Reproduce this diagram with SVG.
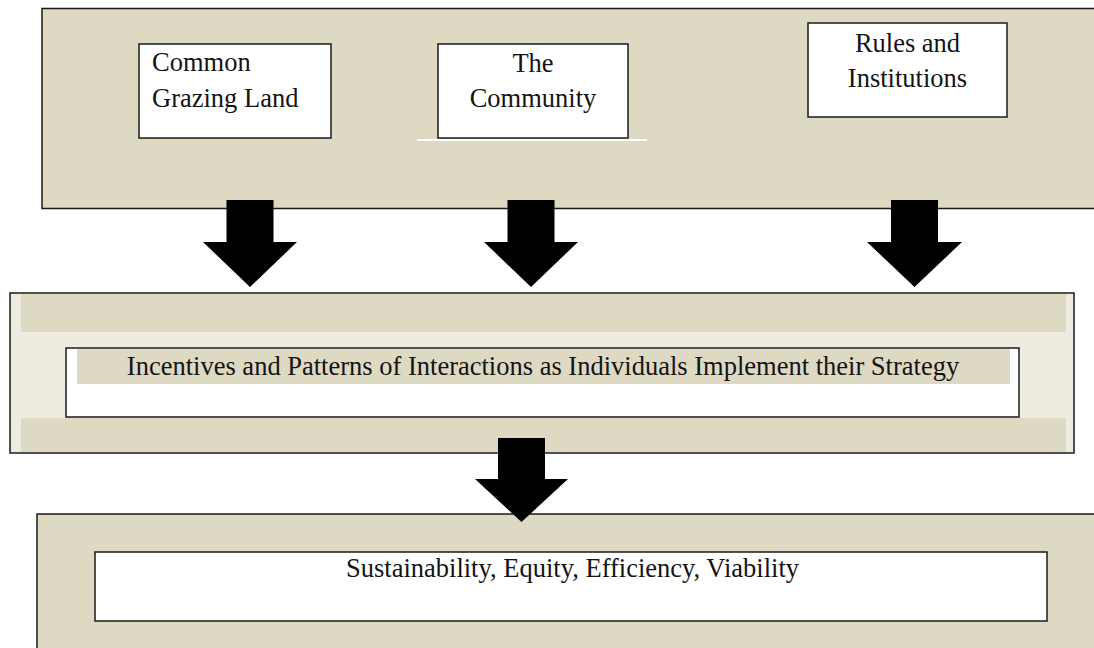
<svg xmlns="http://www.w3.org/2000/svg" width="1094" height="648" viewBox="0 0 1094 648">
<style>
.panel{fill:#ddd9c3;stroke:#1a1a1a;stroke-width:1.5}
.light{fill:#eeece1;stroke:#1a1a1a;stroke-width:1.5}
.band{fill:#ddd9c3;stroke:none}
.box{fill:#ffffff;stroke:#1a1a1a;stroke-width:1.5}
.t{font-family:"Liberation Serif","Times New Roman",serif;font-size:26.5px;fill:#141414}
.c{text-anchor:middle}
.arrow{fill:#000000;stroke:none}
</style>
<rect width="1094" height="648" fill="#ffffff"/>
<g id="top-panel">
<rect class="panel" x="42" y="8.5" width="1070" height="200"/>
<line x1="417" y1="140" x2="647" y2="140" stroke="#ffffff" stroke-width="2"/>
</g>
<g id="node-common-grazing-land">
<rect class="box" x="139" y="44" width="192" height="94"/>
<text class="t" x="152" y="71">Common</text>
<text class="t" x="152" y="107">Grazing Land</text>
</g>
<g id="node-community">
<rect class="box" x="438" y="44" width="190" height="94"/>
<text class="t c" x="533" y="72">The</text>
<text class="t c" x="533" y="107">Community</text>
</g>
<g id="node-rules">
<rect class="box" x="808" y="23" width="199" height="94"/>
<text class="t c" x="907.5" y="52">Rules and</text>
<text class="t c" x="907.5" y="87">Institutions</text>
</g>
<g id="mid-panel">
<rect class="light" x="10" y="293" width="1064" height="160"/>
<rect class="band" x="21" y="294" width="1045" height="38"/>
<rect class="band" x="21" y="418" width="1045" height="34"/>
</g>
<g id="node-incentives">
<rect class="box" x="66" y="348" width="953" height="69"/>
<rect class="band" x="77" y="349" width="933" height="35"/>
<text class="t c" x="543" y="375">Incentives and Patterns of Interactions as Individuals Implement their Strategy</text>
</g>
<g id="bottom-panel">
<rect class="panel" x="37" y="514" width="1070" height="150"/>
</g>
<g id="node-outcomes">
<rect class="box" x="95" y="552" width="952" height="69"/>
<text class="t c" x="572.5" y="577">Sustainability, Equity, Efficiency, Viability</text>
</g>
<g id="connectors">
<polygon class="arrow" points="226.5,200 273.5,200 273.5,242 297,242 250,287 203,242 226.5,242"/>
<polygon class="arrow" points="507.5,200 554.5,200 554.5,242 578,242 531,287 484,242 507.5,242"/>
<polygon class="arrow" points="891,200 938,200 938,242 962,242 914.5,287 867,242 891,242"/>
<polygon class="arrow" points="498,438 545,438 545,479 568,479 521.5,522 475,479 498,479"/>
</g>
</svg>
